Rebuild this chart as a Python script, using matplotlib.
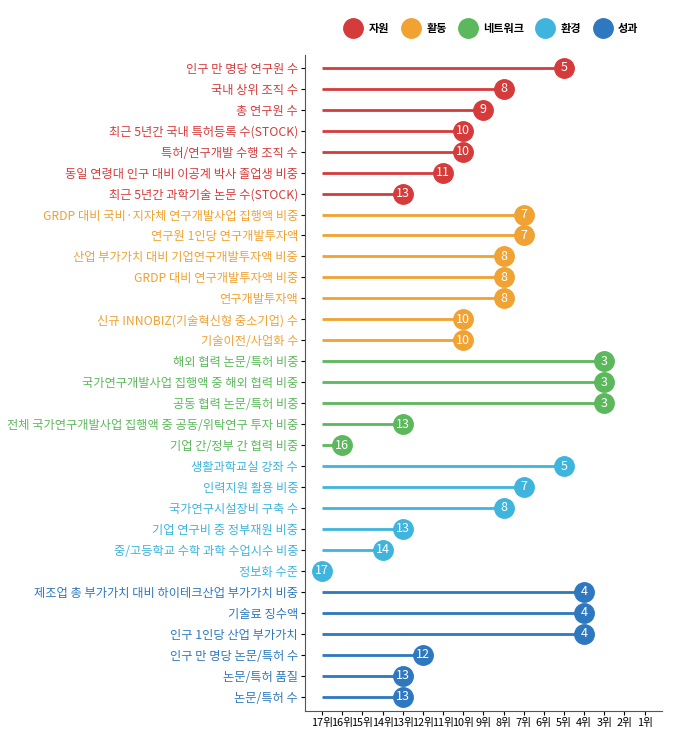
import matplotlib.pyplot as plt
from matplotlib.lines import Line2D

plt.rcParams['font.family'] = ['Noto Sans CJK KR', 'DejaVu Sans']

# === Data ===
groups = ["자원", "활동", "네트워크", "환경", "성과"]
group_colors = ["#d63b3b", "#f0a232", "#5cb85c", "#3fb5dd", "#2e78bf"]

res_labels = ["인구 만 명당 연구원 수", "국내 상위 조직 수", "총 연구원 수",
              "최근 5년간 국내 특허등록 수(STOCK)", "특허/연구개발 수행 조직 수",
              "동일 연령대 인구 대비 이공계 박사 졸업생 비중", "최근 5년간 과학기술 논문 수(STOCK)"]
res_ranks = [5, 8, 9, 10, 10, 11, 13]

act_labels = ["GRDP 대비 국비·지자체 연구개발사업 집행액 비중", "연구원 1인당 연구개발투자액",
              "산업 부가가치 대비 기업연구개발투자액 비중", "GRDP 대비 연구개발투자액 비중",
              "연구개발투자액", "신규 INNOBIZ(기술혁신형 중소기업) 수", "기술이전/사업화 수"]
act_ranks = [7, 7, 8, 8, 8, 10, 10]

net_labels = ["해외 협력 논문/특허 비중", "국가연구개발사업 집행액 중 해외 협력 비중",
              "공동 협력 논문/특허 비중", "전체 국가연구개발사업 집행액 중 공동/위탁연구 투자 비중",
              "기업 간/정부 간 협력 비중"]
net_ranks = [3, 3, 3, 13, 16]

env_labels = ["생활과학교실 강좌 수", "인력지원 활용 비중", "국가연구시설장비 구축 수",
              "기업 연구비 중 정부재원 비중", "중/고등학교 수학 과학 수업시수 비중", "정보화 수준"]
env_ranks = [5, 7, 8, 13, 14, 17]

out_labels = ["제조업 총 부가가치 대비 하이테크산업 부가가치 비중", "기술료 징수액",
              "인구 1인당 산업 부가가치", "인구 만 명당 논문/특허 수", "논문/특허 품질", "논문/특허 수"]
out_ranks = [4, 4, 4, 12, 13, 13]

rank_ticks = list(range(17, 0, -1))
rank_tick_labels = [f"{r}위" for r in rank_ticks]

all_labels = [res_labels, act_labels, net_labels, env_labels, out_labels]
all_ranks = [res_ranks, act_ranks, net_ranks, env_ranks, out_ranks]

# === Plot ===
fig = plt.figure(figsize=(6.86, 7.37), dpi=100)
ax = fig.add_axes([0.4446, 0.035, 0.52, 0.89])

labels, colors = [], []
y = 0
for lab, rk, col in zip(all_labels, all_ranks, group_colors):
    for l, r in zip(lab, rk):
        ax.plot([17, r], [y, y], color=col, lw=2, solid_capstyle='butt', zorder=2)
        ax.plot(r, y, 'o', color=col, markersize=14, zorder=3)
        ax.text(r, y, str(r), color='white', ha='center', va='center',
                fontsize=9, zorder=4)
        labels.append(l)
        colors.append(col)
        y += 1

n = len(labels)
ax.set_ylim(n - 0.3, -0.6)
ax.set_xlim(17.85, 0.15)
ax.set_yticks(range(n))
ax.set_yticklabels(labels, fontsize=8.8)
for t, c in zip(ax.get_yticklabels(), colors):
    t.set_color(c)
ax.set_xticks(rank_ticks)
ax.set_xticklabels(rank_tick_labels, fontsize=7.8)
ax.tick_params(axis='both', length=3, width=0.8, pad=2)
ax.spines['top'].set_visible(False)
ax.spines['right'].set_visible(False)
ax.spines['left'].set_color('#555555')
ax.spines['bottom'].set_color('#555555')

handles = [Line2D([], [], marker='o', ls='', color=c, markersize=14) for c in group_colors]
fig.legend(handles, groups, loc='center', bbox_to_anchor=(0.715, 0.962), ncol=5,
           frameon=False, prop={'size': 8, 'weight': 'bold'},
           handletextpad=0.4, columnspacing=0.9)

fig.savefig("out.png", dpi=100)
